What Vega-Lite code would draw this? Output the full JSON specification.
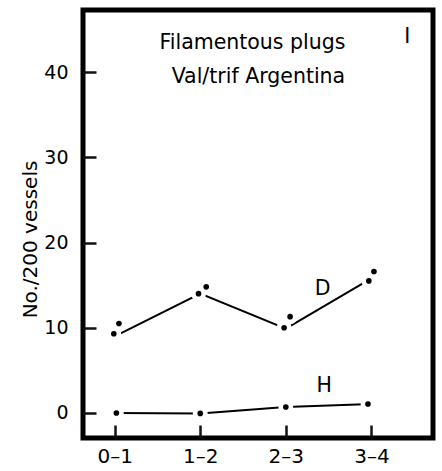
{
  "$schema": "https://vega.github.io/schema/vega-lite/v6.json",
  "autosize": "none",
  "padding": {"left": 83, "top": 10, "right": 9, "bottom": 33},
  "width": 350,
  "height": 428,
  "background": "white",
  "config": {
    "view": {"stroke": "black", "strokeWidth": 5},
    "font": "DejaVu Sans"
  },
  "datasets": {
    "lines": [
      {"series": "D", "x": 0, "y": 9.0},
      {"series": "D", "x": 1, "y": 14.0},
      {"series": "D", "x": 2, "y": 9.9},
      {"series": "D", "x": 3, "y": 15.8},
      {"series": "H", "x": 0, "y": 0.0},
      {"series": "H", "x": 1, "y": -0.05},
      {"series": "H", "x": 2, "y": 0.7},
      {"series": "H", "x": 3, "y": 1.05}
    ],
    "dots": [
      {"series": "D", "x": -0.01, "y": 9.3},
      {"series": "D", "x": 0.05, "y": 10.5},
      {"series": "D", "x": 0.98, "y": 14.0},
      {"series": "D", "x": 1.07, "y": 14.8},
      {"series": "D", "x": 1.98, "y": 10.0},
      {"series": "D", "x": 2.05, "y": 11.3},
      {"series": "D", "x": 2.97, "y": 15.5},
      {"series": "D", "x": 3.03, "y": 16.6},
      {"series": "H", "x": 0.02, "y": 0.0},
      {"series": "H", "x": 1.0, "y": -0.05},
      {"series": "H", "x": 2.0, "y": 0.7},
      {"series": "H", "x": 2.96, "y": 1.05}
    ],
    "labels": [
      {"text": "Filamentous plugs", "x": 1.61, "y": 43.4, "weight": "normal"},
      {"text": "Val/trif Argentina", "x": 1.68, "y": 39.4, "weight": "normal"},
      {"text": "I", "x": 3.42, "y": 44.1, "weight": "bold"},
      {"text": "D", "x": 2.43, "y": 14.6, "weight": "normal"},
      {"text": "H", "x": 2.45, "y": 3.2, "weight": "normal"}
    ]
  },
  "encoding": {
    "x": {
      "field": "x", "type": "quantitative",
      "scale": {"domain": [-0.37, 3.72], "nice": false, "zero": false},
      "axis": {
        "title": null, "values": [0, 1, 2, 3], "grid": false,
        "labelExpr": "datum.value == 0 ? '0–1' : datum.value == 1 ? '1–2' : datum.value == 2 ? '2–3' : '3–4'",
        "domain": false, "offset": -13, "zindex": 2, "ticks": true,
        "tickColor": "#111111", "tickWidth": 2.5, "tickSize": 13, "tickOpacity": 1,
        "labelFontSize": 20, "labelColor": "black", "labelPadding": 8,
        "labelFont": "DejaVu Sans"
      }
    },
    "y": {
      "field": "y", "type": "quantitative",
      "scale": {"domain": [-2.94, 47.3], "nice": false, "zero": false},
      "axis": {
        "title": "No./200 vessels", "values": [0, 10, 20, 30, 40], "grid": false,
        "domain": false, "offset": -13, "zindex": 2, "ticks": true,
        "tickColor": "#111111", "tickWidth": 2.5, "tickSize": 13, "tickOpacity": 1,
        "labelFontSize": 19, "labelColor": "black", "labelPadding": 15,
        "labelFont": "DejaVu Sans",
        "titleFontSize": 20, "titleFontWeight": "normal", "titleColor": "black",
        "titleFont": "DejaVu Sans", "titlePadding": 3, "titleY": 229
      }
    }
  },
  "layer": [
    {
      "data": {"name": "lines"},
      "mark": {"type": "line", "color": "black", "strokeWidth": 2},
      "encoding": {"detail": {"field": "series"}}
    },
    {
      "data": {"name": "dots"},
      "mark": {"type": "point", "filled": true, "color": "white", "opacity": 1, "size": 220}
    },
    {
      "data": {"name": "dots"},
      "mark": {"type": "point", "filled": true, "color": "black", "opacity": 1, "size": 32}
    },
    {
      "data": {"name": "labels"},
      "mark": {"type": "text", "color": "black", "font": "DejaVu Sans", "fontSize": 20.5, "align": "center", "baseline": "middle"},
      "encoding": {
        "text": {"field": "text"},
        "fontWeight": {"field": "weight", "type": "nominal", "scale": null}
      }
    }
  ]
}
